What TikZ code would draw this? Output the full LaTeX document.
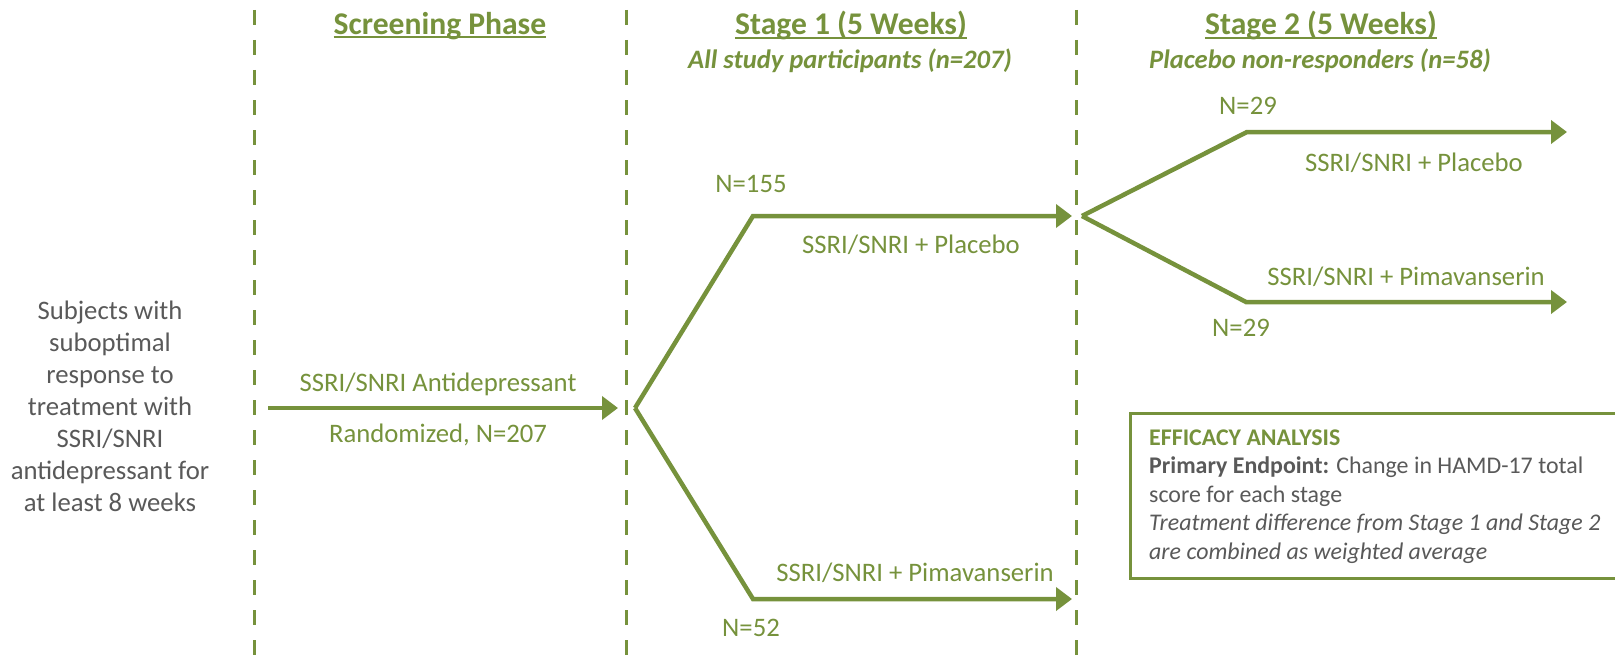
\documentclass[tikz,border=0pt]{standalone}
\usepackage{fontspec}
\setmainfont{Carlito}
\usetikzlibrary{arrows.meta}
\definecolor{olive}{HTML}{76923C}
\definecolor{txtgray}{HTML}{595959}
\begin{document}
\begin{tikzpicture}[x=1pt,y=-1pt,
  phase/.style={draw=olive, line width=3pt, dash pattern=on 15pt off 15pt},
  flow/.style={draw=olive, line width=4.5pt, line join=miter},
  flowarrow/.style={flow, -{Triangle[length=16pt,width=23pt]}},
  lbl/.style={text=olive, font=\fontsize{26.7}{32}\selectfont, inner sep=0pt, text height=17.2pt, text depth=0pt, anchor=center},
  titletxt/.style={text=olive, font=\fontsize{31.6}{38}\selectfont\bfseries, inner sep=0pt, anchor=base},
  subtxt/.style={text=olive, font=\fontsize{26.6}{32}\selectfont\bfseries\itshape, inner sep=0pt, anchor=base},
  uline/.style={draw=olive, line width=2pt},
  effbox/.style={draw=olive, line width=2.5pt, fill=white, inner sep=0pt},
]
\useasboundingbox (0,0) rectangle (1615,661);

% phase separators
\coordinate (d1t) at (254,10);  \coordinate (d1b) at (254,661);
\coordinate (d2t) at (626,10);  \coordinate (d2b) at (626,661);
\coordinate (d3t) at (1076,10); \coordinate (d3b) at (1076,661);
\draw[phase] (d1t) -- (d1b);
\draw[phase] (d2t) -- (d2b);
\draw[phase] (d3t) -- (d3b);

% titles
\node[titletxt] (t0) at (440,34.3) {Screening Phase};
\node[titletxt] (t1) at (851,34.8) {Stage 1 (5 Weeks)};
\node[titletxt] (t2) at (1321,34.8) {Stage 2 (5 Weeks)};
\draw[uline] ([yshift=-3pt]t0.base west) -- ([yshift=-3pt]t0.base east);
\draw[uline] ([yshift=-3pt]t1.base west) -- ([yshift=-3pt]t1.base east);
\draw[uline] ([yshift=-3pt]t2.base west) -- ([yshift=-3pt]t2.base east);
\node[subtxt] (s1) at (850,68.3) {All study participants (n=207)};
\node[subtxt] (s2) at (1320,68.3) {Placebo non-responders (n=58)};

% subjects
\node[text=txtgray, font=\fontsize{26.7}{32}\selectfont, align=center, inner sep=0pt] (subj) at (110,406)
  {Subjects with\\suboptimal\\response to\\treatment with\\SSRI/SNRI\\antidepressant for\\at least 8 weeks};

% screening arrow
\coordinate (a0) at (268,408);
\coordinate (a1) at (618,408);
\draw[flowarrow] (a0) -- (a1);
\node[lbl] (lA) at (438,383) {SSRI/SNRI Antidepressant};
\node[lbl] (lR) at (438,434) {Randomized, N=207};

% stage 1 split
\coordinate (v1) at (635,408);
\coordinate (u1) at (753,216);
\coordinate (u1e) at (1072,216);
\coordinate (w1) at (753,599);
\coordinate (w1e) at (1072,599);
\draw[flowarrow] (v1) -- (u1) -- (u1e);
\draw[flowarrow] (v1) -- (w1) -- (w1e);
\node[lbl] (n155) at (751,184) {N=155};
\node[lbl] (p1) at (911,245) {SSRI/SNRI + Placebo};
\node[lbl] (m1) at (915,573) {SSRI/SNRI + Pimavanserin};
\node[lbl] (n52) at (751,628) {N=52};

% stage 2 split
\coordinate (v2) at (1082,216);
\coordinate (u2) at (1247,132);
\coordinate (u2e) at (1567,132);
\coordinate (w2) at (1246,302);
\coordinate (w2e) at (1567,302);
\draw[flowarrow] (v2) -- (u2) -- (u2e);
\draw[flowarrow] (v2) -- (w2) -- (w2e);
\node[lbl] (n29a) at (1248,106) {N=29};
\node[lbl] (p2) at (1414,163) {SSRI/SNRI + Placebo};
\node[lbl] (m2) at (1406,277) {SSRI/SNRI + Pimavanserin};
\node[lbl] (n29b) at (1241,328) {N=29};

% efficacy box
\node[effbox, minimum width=500pt, minimum height=165pt, anchor=north west] (box) at (1129,412) {};
\node[text=txtgray, font=\fontsize{23.9}{28.5}\selectfont, align=left, inner sep=0pt, anchor=north west] (boxtxt) at (1149,429.5)
  {\textcolor{olive}{\textbf{EFFICACY ANALYSIS}}\\
   \textbf{Primary Endpoint:} Change in HAMD-17 total\\
   score for each stage\\
   \textit{Treatment difference from Stage 1 and Stage 2}\\
   \textit{are combined as weighted average}};
\end{tikzpicture}
\end{document}
